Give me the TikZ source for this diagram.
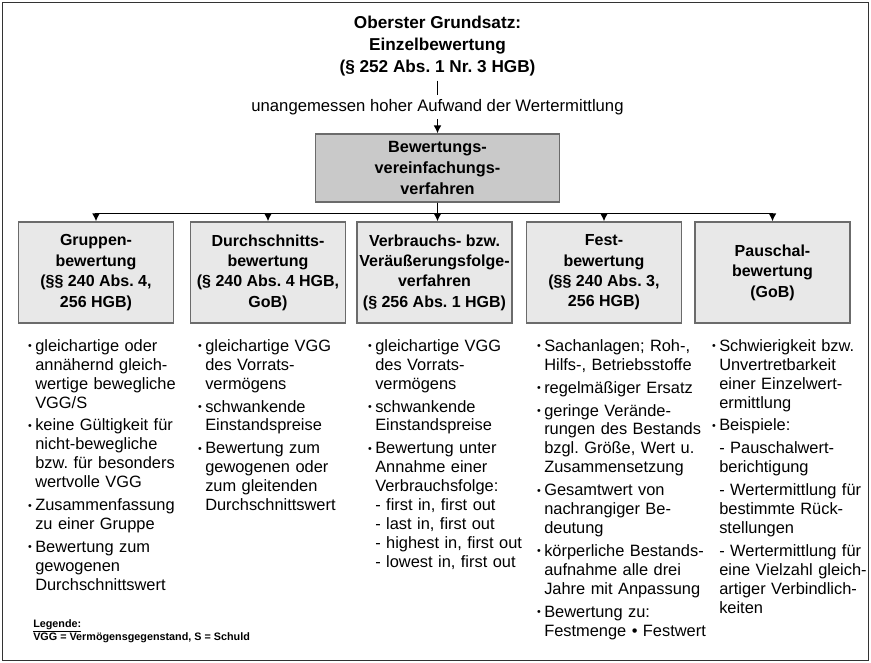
\documentclass[tikz,border=0pt]{standalone}
\usepackage{fontspec}
\setmainfont{Liberation Sans}
\usepackage{tikz}
\usetikzlibrary{arrows.meta}
\tikzset{>={Latex[length=6pt,width=6pt]}}
\frenchspacing
\definecolor{boxfill}{gray}{0.91}
\definecolor{verffill}{gray}{0.79}
\definecolor{boxline}{gray}{0.42}
\newcommand{\bul}{\raisebox{1.2pt}{\fontsize{8}{8}\selectfont\textbullet}}
\newcommand{\pkt}{\par\noindent\llap{\bul\hspace{2.6pt}}}
\newcommand{\strich}{\par\hangindent=7pt\hangafter=1\noindent-\ }

\begin{document}
\begin{tikzpicture}[x=0.75pt,y=-0.75pt]
\useasboundingbox (0,0) rectangle (871,663);
\draw[black!80,line width=0.8pt] (2.5,2.5) rectangle (868.5,660.5);

\begin{scope}[every node/.style={align=center,font=\bfseries\fontsize{12.9}{16.5}\selectfont}]
\node (grundsatz) at (437.5,46) {Oberster Grundsatz:\\Einzelbewertung\\(§ 252 Abs. 1 Nr. 3 HGB)};
\end{scope}

\node[draw=boxline,line width=0.9pt,fill=verffill,inner sep=0pt,align=center,
      minimum width=183pt,minimum height=51pt,
      font=\bfseries\fontsize{12.2}{15.4}\selectfont] (verf) at (437.5,168)
      {Bewertungs-\\vereinfachungs-\\verfahren};

\begin{scope}[every node/.style={draw=boxline,line width=0.9pt,fill=boxfill,inner sep=0pt,
    align=center,minimum width=116.25pt,minimum height=75.75pt,
    font=\bfseries\fontsize{12}{15.3}\selectfont}]
\node (gruppe) at (96,272.5) {Gruppen-\\bewertung\\(§§ 240 Abs. 4,\\256 HGB)};
\node (durchschnitt) at (268,272.5) {Durchschnitts-\\bewertung\\(§ 240 Abs. 4 HGB,\\GoB)};
\node (verbrauch) at (434.5,272.5) {Verbrauchs- bzw.\\Veräußerungsfolge-\\verfahren\\(§ 256 Abs. 1 HGB)};
\node (fest) at (604,272.5) {Fest-\\bewertung\\(§§ 240 Abs. 3,\\256 HGB)};
\node (pauschal) at (772.5,272.5) {Pauschal-\\bewertung\\(GoB)};
\end{scope}

\begin{scope}[every edge/.style={draw=black,line width=1.3pt}]
    \path [->] (grundsatz) edge node[fill=white,inner sep=3pt,
        font=\fontsize{12.5}{14}\selectfont] {unangemessen hoher Aufwand der Wertermittlung} (verf);
\end{scope}
\begin{scope}[line width=1.3pt]
    \draw [->] (verf.south) -- ++(0,11) -| (gruppe);
    \draw [->] (verf.south) -- ++(0,11) -| (durchschnitt);
    \draw [->] (verf.south) -- (verf.south |- verbrauch.north);
    \draw [->] (verf.south) -- ++(0,11) -| (fest);
    \draw [->] (verf.south) -- ++(0,11) -| (pauschal);
\end{scope}

\begin{scope}[every node/.style={anchor=north west,inner sep=0pt,text width=145pt,align=left,
    font=\fontsize{12.3}{14.2}\selectfont,execute at begin node={\setlength{\parskip}{3pt}}}]
\node (t1) at (35,328) {\pkt gleichartige oder\\annähernd gleich-\\wertige bewegliche\\VGG/S
  \pkt keine Gültigkeit für\\nicht-bewegliche\\bzw. für besonders\\wertvolle VGG
  \pkt Zusammenfassung\\zu einer Gruppe
  \pkt Bewertung zum\\gewogenen\\Durchschnittswert};
\node (t2) at (205,328) {\pkt gleichartige VGG\\des Vorrats-\\vermögens
  \pkt schwankende\\Einstandspreise
  \pkt Bewertung zum\\gewogenen oder\\zum gleitenden\\Durchschnittswert};
\node (t3) at (375,328) {\pkt gleichartige VGG\\des Vorrats-\\vermögens
  \pkt schwankende\\Einstandspreise
  \pkt Bewertung unter\\Annahme einer\\Verbrauchsfolge:\\- first in, first out\\- last in, first out\\- highest in, first out\\- lowest in, first out};
\node (t4) at (544,328) {\pkt Sachanlagen; Roh-,\\Hilfs-, Betriebsstoffe
  \pkt regelmäßiger Ersatz
  \pkt geringe Verände-\\rungen des Bestands\\bzgl. Größe, Wert u.\\Zusammensetzung
  \pkt Gesamtwert von\\nachrangiger Be-\\deutung
  \pkt körperliche Bestands-\\aufnahme alle drei\\Jahre mit Anpassung
  \pkt Bewertung zu:\\Festmenge \textbullet\ Festwert};
\node (t5) at (719,328) {\pkt Schwierigkeit bzw.\\Unvertretbarkeit\\einer Einzelwert-\\ermittlung
  \pkt Beispiele:
  \strich Pauschalwert-\\berichtigung
  \strich Wertermittlung für\\bestimmte Rück-\\stellungen
  \strich Wertermittlung für\\eine Vielzahl gleich-\\artiger Verbindlich-\\keiten};
\end{scope}

\node[anchor=west,inner sep=0pt,align=left,font=\bfseries\fontsize{8.1}{10}\selectfont] (leg)
    at (33,631) {\underline{Legende:}\\VGG = Vermögensgegenstand, S = Schuld};
\end{tikzpicture}
\end{document}
